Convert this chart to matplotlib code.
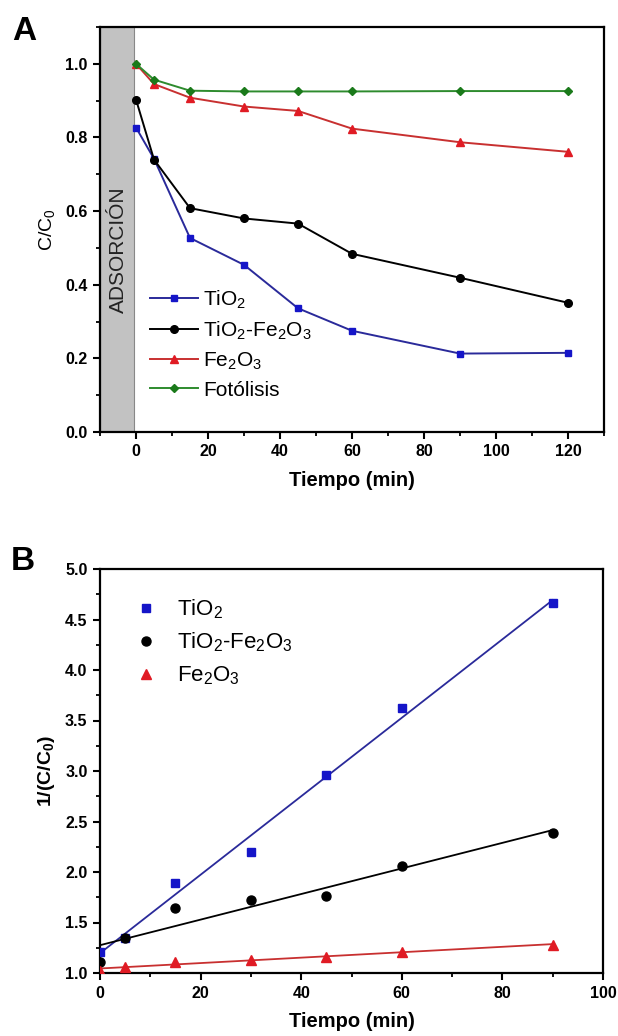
import numpy as np
import matplotlib
matplotlib.use("Agg")
import matplotlib.pyplot as plt
from matplotlib.ticker import MultipleLocator

plt.rcParams['font.family'] = ['Liberation Sans', 'DejaVu Sans']
plt.rcParams['mathtext.default'] = 'regular'

# ---------- Data panel A ----------
time_a = [0, 5, 15, 30, 45, 60, 90, 120]
tio2_a = [0.827, 0.742, 0.527, 0.454, 0.336, 0.275, 0.213, 0.215]
tio2fe_a = [0.903, 0.740, 0.608, 0.580, 0.566, 0.484, 0.419, 0.351]
fe2o3_a = [1.0, 0.945, 0.908, 0.884, 0.872, 0.824, 0.787, 0.761]
foto_a = [1.0, 0.957, 0.927, 0.925, 0.925, 0.925, 0.926, 0.926]

# ---------- Data panel B ----------
time_b = [0, 5, 15, 30, 45, 60, 90]
tio2_b = [1.21, 1.35, 1.89, 2.20, 2.96, 3.62, 4.66]
tio2fe_b = [1.11, 1.35, 1.64, 1.72, 1.76, 2.06, 2.39]
fe2o3_b = [1.02, 1.06, 1.11, 1.13, 1.16, 1.21, 1.28]

labels = ['TiO$_2$', 'TiO$_2$-Fe$_2$O$_3$', 'Fe$_2$O$_3$', 'Fotólisis']

c_blue = '#1515c8'
c_blue_line = '#2a2a9a'
c_black = '#000000'
c_red = '#e01b24'
c_red_line = '#c83030'
c_green = '#1a7a1a'
c_green_line = '#2e8b2e'

fig = plt.figure(figsize=(6.18, 10.36), dpi=100)

def style_axes(ax):
    for s in ax.spines.values():
        s.set_linewidth(1.6)
    ax.tick_params(which='major', direction='out', length=5, width=1.5,
                   labelsize=11.5, pad=4)
    ax.tick_params(which='minor', direction='out', length=3, width=1.3)
    for lab in ax.get_xticklabels() + ax.get_yticklabels():
        lab.set_fontweight('bold')

# ---------- Panel A ----------
axA = fig.add_axes([100/618, 1-432/1036, 504/618, 405/1036])
axA.axvspan(-10, -0.5, facecolor='#c2c2c2', edgecolor='#888888', lw=0.8, zorder=0)
axA.text(-5.0, 0.495, 'ADSORCIÓN', rotation=90, ha='center', va='center',
         fontsize=15, color='#222222')

ms = 5
axA.plot(time_a, tio2_a, '-s', color=c_blue_line, mfc=c_blue, mec=c_blue, ms=ms, lw=1.4, label=labels[0])
axA.plot(time_a, tio2fe_a, '-o', color=c_black, mfc=c_black, mec=c_black, ms=ms+0.5, lw=1.4, label=labels[1])
axA.plot(time_a, fe2o3_a, '-^', color=c_red_line, mfc=c_red, mec=c_red, ms=ms+1, lw=1.4, label=labels[2])
axA.plot(time_a, foto_a, '-D', color=c_green_line, mfc=c_green, mec=c_green, ms=ms-0.5, lw=1.4, label=labels[3])

axA.set_xlim(-10, 130)
axA.set_ylim(0, 1.1)
axA.xaxis.set_major_locator(MultipleLocator(20))
axA.xaxis.set_minor_locator(MultipleLocator(10))
axA.yaxis.set_major_locator(MultipleLocator(0.2))
axA.yaxis.set_minor_locator(MultipleLocator(0.1))
axA.set_xticks([0, 20, 40, 60, 80, 100, 120])
axA.set_xlabel('Tiempo (min)', fontsize=14.5, fontweight='bold', labelpad=8)
axA.set_ylabel('C/C$_0$', fontsize=14, labelpad=6)
style_axes(axA)
axA.legend(loc='upper left', bbox_to_anchor=(0.083, 0.375), frameon=False,
           fontsize=15, handlelength=2.3, labelspacing=0.42, handletextpad=0.25,
           borderaxespad=0)

# ---------- Panel B ----------
axB = fig.add_axes([100/618, 1-973/1036, 503/618, 404/1036])
xfit = np.array([0, 90])
for x, y, mk, mc, lc, lab, msz in [
        (time_b, tio2_b, 's', c_blue, c_blue_line, labels[0], 5.5),
        (time_b, tio2fe_b, 'o', c_black, c_black, labels[1], 6.5),
        (time_b, fe2o3_b, '^', c_red, c_red_line, labels[2], 6.5)]:
    axB.plot(x, y, mk, color=mc, ms=msz, ls='none', label=lab, zorder=3)
    p = np.polyfit(x, y, 1)
    axB.plot(xfit, np.polyval(p, xfit), '-', color=lc, lw=1.3, zorder=2)

axB.set_xlim(0, 100)
axB.set_ylim(1.0, 5.0)
axB.xaxis.set_major_locator(MultipleLocator(20))
axB.xaxis.set_minor_locator(MultipleLocator(10))
axB.yaxis.set_major_locator(MultipleLocator(0.5))
axB.yaxis.set_minor_locator(MultipleLocator(0.25))
axB.set_xlabel('Tiempo (min)', fontsize=14.5, fontweight='bold', labelpad=8)
axB.set_ylabel('1/(C/C$_0$)', fontsize=14, fontweight='bold', labelpad=6)
style_axes(axB)
axB.legend(loc='upper left', bbox_to_anchor=(0.052, 0.952), frameon=False,
           fontsize=16, handlelength=1.0, labelspacing=0.45, handletextpad=0.9,
           borderaxespad=0)

fig.text(24/618, 1-32/1036, 'A', fontsize=24, fontweight='bold', ha='center', va='center')
fig.text(23/618, 1-562/1036, 'B', fontsize=24, fontweight='bold', ha='center', va='center')

fig.savefig('out.png', dpi=100)
